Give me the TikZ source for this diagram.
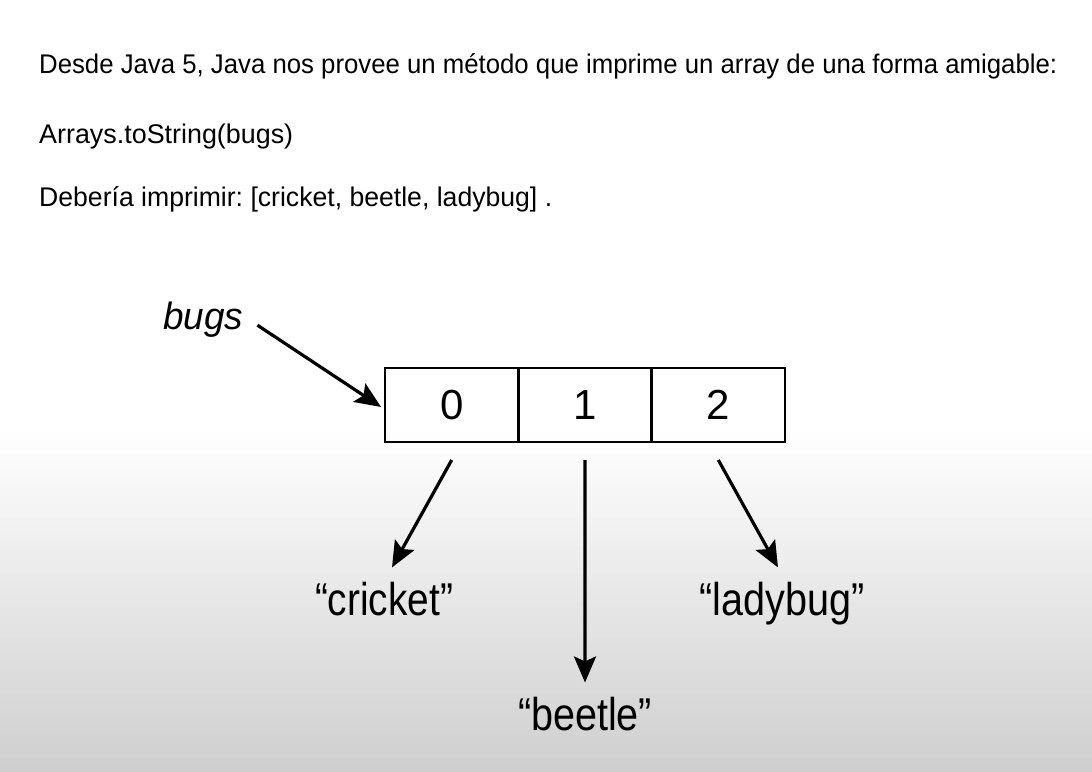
\documentclass[tikz,border=0pt]{standalone}
\usepackage{fontspec}
\setmainfont{Liberation Sans}
\usetikzlibrary{arrows.meta}
\frenchspacing
\tikzset{
  txt/.style={anchor=base west, inner sep=0pt, font=\fontsize{27}{32}\selectfont},
  cell/.style={draw, line width=2.4pt, outer sep=0pt, minimum width=133.3pt, minimum height=74pt, inner sep=0pt, font=\fontsize{42}{48}\selectfont},
  lbl/.style={inner sep=0pt, anchor=base, font=\fontsize{46}{50}\selectfont},
  arr/.style={line width=3.2pt, -{Stealth[length=26pt,width=22pt,inset=5pt]}}
}
\begin{document}
\begin{tikzpicture}[x=1pt,y=-1pt]
\useasboundingbox (0,0) rectangle (1092,771);
\fill[white] (0,0) rectangle (1092,430);
\shade[top color=white, bottom color=black!19] (0,429) rectangle (1092,771);
% text lines
\node[txt] (l1) at (39,73) {\resizebox{1018pt}{\height}{Desde Java 5, Java nos provee un método que imprime un array de una forma amigable:}};
\node[txt] (l2) at (39,143) {\resizebox{254pt}{\height}{Arrays.toString(bugs)}};
\node[txt] (l3) at (39,206) {\resizebox{513pt}{\height}{Debería imprimir: [cricket, beetle, ladybug] .}};
% array
\node[cell] (c0) at (451.7,405) {0};
\node[cell, anchor=west] (c1) at (c0.east) {1};
\node[cell, anchor=west] (c2) at (c1.east) {2};
\node[inner sep=0pt, anchor=base west, font=\fontsize{38}{44}\selectfont\itshape] (bugs) at (163,329) {\resizebox{80pt}{\height}{bugs}};
% labels
\node[lbl] (cr) at (384,615) {\resizebox{138pt}{\height}{“cricket”}};
\node[lbl] (be) at (585,730) {\resizebox{134pt}{\height}{“beetle”}};
\node[lbl] (la) at (782,615) {\resizebox{165pt}{\height}{“ladybug”}};
% arrows
\draw[arr] ([xshift=14pt,yshift=-6pt]bugs.east) -- ([xshift=-4pt,yshift=-2pt]c0.west);
\draw[arr] ([yshift=-18pt]c0.south) -- ([xshift=8pt,yshift=14pt]cr.north);
\draw[arr] ([yshift=-18pt]c1.south) -- ([yshift=14pt]be.north);
\draw[arr] ([yshift=-18pt]c2.south) -- ([xshift=-4pt,yshift=14pt]la.north);
\end{tikzpicture}
\end{document}
